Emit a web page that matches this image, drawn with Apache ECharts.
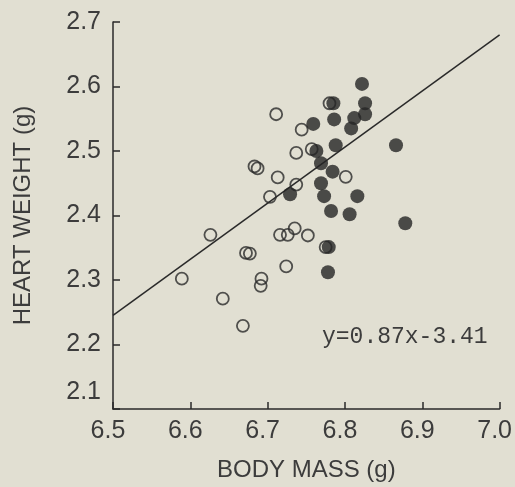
<!DOCTYPE html>
<html>
<head>
<meta charset="utf-8">
<style>
  html, body { margin: 0; padding: 0; background: #e1dfd2; }
  #chart { width: 515px; height: 487px; }
</style>
<script src="https://cdn.jsdelivr.net/npm/echarts@6/dist/echarts.min.js"></script>
</head>
<body>
<div id="chart"></div>
<script>
// Body mass (g) vs heart weight (g); two groups of birds
const openMass = [6.711, 6.744, 6.737, 6.683, 6.687, 6.713, 6.737, 6.703, 6.626, 6.589,
                  6.672, 6.677, 6.716, 6.726, 6.735, 6.752, 6.724, 6.692, 6.691, 6.642,
                  6.668, 6.801, 6.780, 6.757, 6.775];
const openHeart = [2.557, 2.533, 2.497, 2.476, 2.473, 2.459, 2.448, 2.429, 2.370, 2.302,
                   2.342, 2.341, 2.370, 2.370, 2.380, 2.369, 2.321, 2.302, 2.291, 2.271,
                   2.229, 2.460, 2.574, 2.503, 2.351];

const filledMass = [6.822, 6.826, 6.826, 6.812, 6.808, 6.786, 6.759, 6.788, 6.769, 6.784,
                    6.769, 6.773, 6.816, 6.782, 6.806, 6.866, 6.878, 6.729, 6.778, 6.785,
                    6.763, 6.779];
const filledHeart = [2.604, 2.574, 2.557, 2.551, 2.535, 2.549, 2.542, 2.509, 2.481, 2.468,
                     2.450, 2.430, 2.430, 2.407, 2.402, 2.509, 2.388, 2.433, 2.312, 2.574,
                     2.500, 2.351];

// Fitted regression: y = 0.87x - 3.41
const slope = 0.87;
const intercept = -3.41;
const fitRange = [6.5, 7.0];

const xTicks = [6.5, 6.6, 6.7, 6.8, 6.9, 7.0];
const yTicks = [2.1, 2.2, 2.3, 2.4, 2.5, 2.6, 2.7];

const ink = '#2a2a2a';
const textInk = '#3c3c3c';
const font = '"Liberation Sans", Arial, sans-serif';

const pair = (xs, ys) => xs.map((x, i) => [x, ys[i]]);
const fitLine = fitRange.map(x => [x, +(slope * x + intercept).toFixed(4)]);

const chart = echarts.init(document.getElementById('chart'), null, { renderer: 'canvas' });
chart.setOption({
  animation: false,
  backgroundColor: '#e1dfd2',
  grid: { left: 113, right: 14, top: 22, bottom: 78 },
  xAxis: {
    type: 'value',
    min: xTicks[0], max: xTicks[xTicks.length - 1], interval: 0.1,
    name: 'BODY MASS (g)', nameLocation: 'middle', nameGap: 49,
    nameTextStyle: { fontFamily: font, fontSize: 24, color: textInk },
    splitLine: { show: false },
    axisLine: { lineStyle: { color: ink, width: 1.5 } },
    axisTick: { inside: true, length: 7, lineStyle: { color: ink, width: 1.5 } },
    axisLabel: {
      margin: 10, fontFamily: font, fontSize: 25, color: textInk,
      padding: [0, 10, 0, 0],
      formatter: v => v.toFixed(1)
    }
  },
  yAxis: {
    type: 'value',
    min: yTicks[0], max: yTicks[yTicks.length - 1], interval: 0.1,
    name: 'HEART WEIGHT (g)', nameLocation: 'middle', nameGap: 78,
    nameTextStyle: { fontFamily: font, fontSize: 24, color: textInk },
    splitLine: { show: false },
    axisLine: { lineStyle: { color: ink, width: 1.5 } },
    axisTick: { inside: true, length: 7, lineStyle: { color: ink, width: 1.5 } },
    axisLabel: {
      margin: 12, fontFamily: font, fontSize: 25, color: textInk,
      formatter: v => Math.abs(v - yTicks[0]) < 1e-6 ? '{low|' + v.toFixed(1) + '}' : v.toFixed(1),
      rich: { low: { fontFamily: font, fontSize: 25, color: textInk, padding: [0, 0, 34, 0] } }
    }
  },
  graphic: [{
    type: 'text', left: 322, top: 325,
    style: { text: 'y=0.87x-3.41', font: '23px "Liberation Mono", "DejaVu Sans Mono", monospace', fill: textInk }
  }],
  series: [
    {
      type: 'line', data: fitLine, showSymbol: false, silent: true, z: 1,
      lineStyle: { color: ink, width: 1.5 }
    },
    {
      type: 'scatter', data: pair(openMass, openHeart), symbol: 'circle', symbolSize: 12, z: 2,
      itemStyle: { color: 'rgba(0,0,0,0)', borderColor: ink, borderWidth: 1.8 }
    },
    {
      type: 'scatter', data: pair(filledMass, filledHeart), symbol: 'circle', symbolSize: 14, z: 3,
      itemStyle: { color: '#242424', borderColor: '#242424', borderWidth: 0 }
    }
  ]
});
</script>
</body>
</html>
